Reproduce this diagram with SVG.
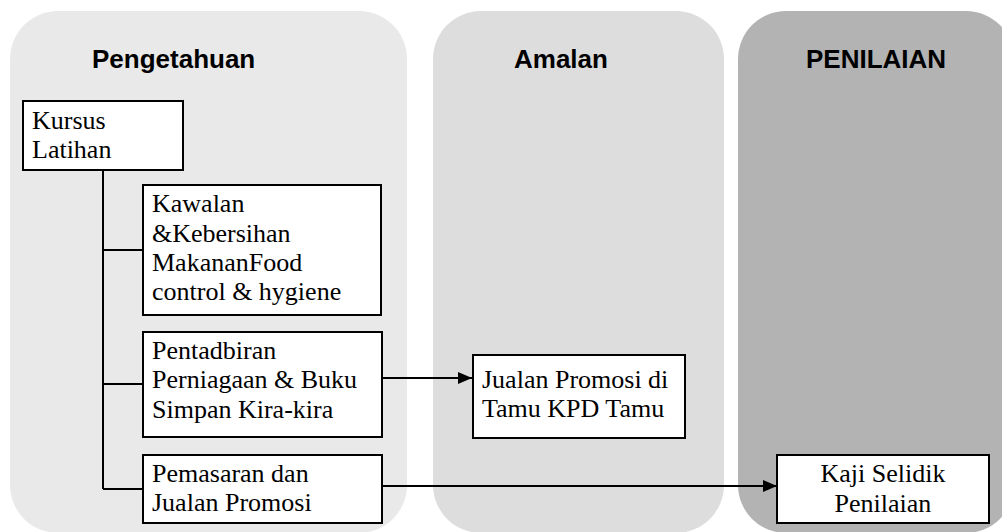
<svg xmlns="http://www.w3.org/2000/svg" width="1002" height="532" viewBox="0 0 1002 532">
<style>
.title{font-family:"Liberation Sans",Arial,sans-serif;font-weight:bold;font-size:26px;fill:#000}
.box{fill:#fff;stroke:#000;stroke-width:2}
.lbl{font-family:"Liberation Serif","Times New Roman",serif;font-size:26px;fill:#000}
.conn{fill:none;stroke:#000;stroke-width:2}
</style>
<defs>
<marker id="arr" markerUnits="userSpaceOnUse" markerWidth="16" markerHeight="14" refX="15" refY="7" orient="auto">
<path d="M1,1 L15,7 L1,13 Z" fill="#000"/>
</marker>
</defs>
<g id="panel-pengetahuan">
<rect x="10" y="11" width="397" height="522" rx="48" ry="48" fill="#e9e9e9"/>
<text class="title" x="92" y="68">Pengetahuan</text>
</g>
<g id="panel-amalan">
<rect x="433" y="11" width="291" height="522" rx="48" ry="48" fill="#dddddd"/>
<text class="title" x="514" y="68">Amalan</text>
</g>
<g id="panel-penilaian">
<rect x="738" y="11" width="276" height="522" rx="48" ry="48" fill="#b3b3b3"/>
<text class="title" x="806" y="68">PENILAIAN</text>
</g>
<g id="connectors">
<path class="conn" d="M103,170 V489"/>
<path class="conn" d="M103,250 H143"/>
<path class="conn" d="M103,384 H143"/>
<path class="conn" d="M103,489 H143"/>
<path class="conn" d="M382,378 H472" marker-end="url(#arr)"/>
<path class="conn" d="M382,486 H777" marker-end="url(#arr)"/>
</g>
<g id="kursus">
<rect class="box" x="23" y="101" width="160" height="69"/>
<text class="lbl" x="32" y="129">Kursus</text>
<text class="lbl" x="32" y="158">Latihan</text>
</g>
<g id="kawalan">
<rect class="box" x="143" y="185" width="238" height="130"/>
<text class="lbl" x="152" y="212">Kawalan</text>
<text class="lbl" x="152" y="242">&amp;Kebersihan</text>
<text class="lbl" x="152" y="271">MakananFood</text>
<text class="lbl" x="152" y="300">control &amp; hygiene</text>
</g>
<g id="pentadbiran">
<rect class="box" x="143" y="332" width="239" height="105"/>
<text class="lbl" x="152" y="359">Pentadbiran</text>
<text class="lbl" x="152" y="388">Perniagaan &amp; Buku</text>
<text class="lbl" x="152" y="418">Simpan Kira-kira</text>
</g>
<g id="pemasaran">
<rect class="box" x="143" y="455" width="239" height="68"/>
<text class="lbl" x="152" y="482">Pemasaran dan</text>
<text class="lbl" x="152" y="511">Jualan Promosi</text>
</g>
<g id="jualan">
<rect class="box" x="473" y="355" width="212" height="83"/>
<text class="lbl" x="482" y="388">Jualan Promosi di</text>
<text class="lbl" x="482" y="417">Tamu KPD Tamu</text>
</g>
<g id="kaji">
<rect class="box" x="777" y="455" width="212" height="68"/>
<text class="lbl" x="883" y="482" text-anchor="middle">Kaji Selidik</text>
<text class="lbl" x="883" y="512" text-anchor="middle">Penilaian</text>
</g>
</svg>
